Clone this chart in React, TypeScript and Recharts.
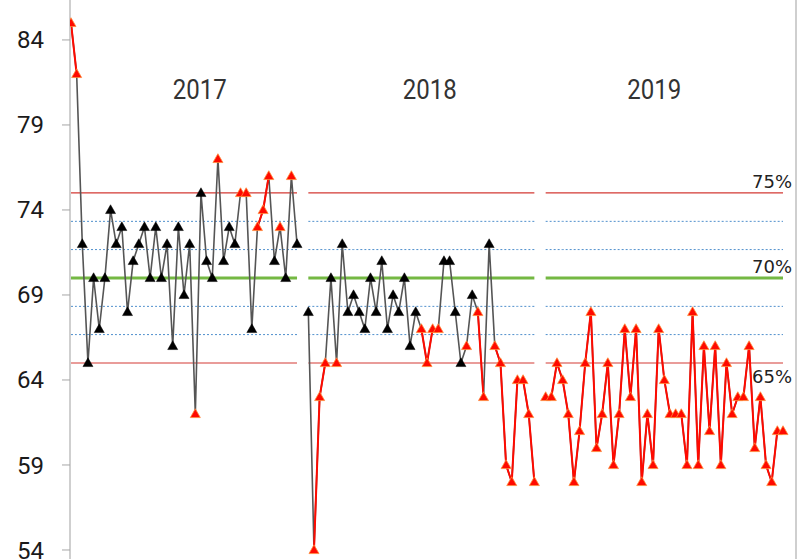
import { Line, LineChart, ReferenceDot, ReferenceLine, XAxis, YAxis } from "recharts";

// readings per year (one point per sample)
const values2017 = [
  85, 82, 72, 65, 70, 67, 70, 74, 72, 73, 68, 71, 72, 73, 70, 73, 70, 72, 66, 73, 69,
  72, 62, 75, 71, 70, 77, 71, 73, 72, 75, 75, 67, 73, 74, 76, 71, 73, 70, 76, 72
];
// 1 = flagged point (red marker)
const flags2017 = [
  1, 1, 0, 0, 0, 0, 0, 0, 0, 0, 0, 0, 0, 0, 0, 0, 0, 0, 0, 0, 0,
  0, 1, 0, 0, 0, 1, 0, 0, 0, 1, 1, 0, 1, 1, 1, 0, 1, 0, 1, 0
];

const values2018 = [
  68, 54, 63, 65, 70, 65, 72, 68, 69, 68, 67, 70, 68, 71, 67, 69, 68, 70, 66, 68, 67,
  65, 67, 67, 71, 71, 68, 65, 66, 69, 68, 63, 72, 66, 65, 59, 58, 64, 64, 62, 58
];
const flags2018 = [
  0, 1, 1, 1, 0, 1, 0, 0, 0, 0, 0, 0, 0, 0, 0, 0, 0, 0, 0, 0, 1,
  1, 1, 1, 0, 0, 0, 0, 1, 0, 1, 1, 0, 1, 1, 1, 1, 1, 1, 1, 1
];

const values2019 = [
  63, 63, 65, 64, 62, 58, 61, 65, 68, 60, 62, 65, 59, 62, 67, 63, 67, 58, 62, 59, 67, 64,
  62, 62, 62, 59, 68, 59, 66, 61, 66, 59, 65, 62, 63, 63, 66, 60, 63, 59, 58, 61, 61
];
const flags2019 = values2019.map(() => 1);

const years = ["2017", "2018", "2019"];
const yearLabelPos = [22.8, 63.5, 103.2];

const upperLimit = 75;
const centerLine = 70;
const lowerLimit = 65;
const bandLines = [73.33, 71.67, 68.33, 66.67];

const yTicks = [54, 59, 64, 69, 74, 79, 84];

const segments = [
  { values: values2017, flags: flags2017 },
  { values: values2018, flags: flags2018 },
  { values: values2019, flags: flags2019 }
];

type Row = {
  i: number;
  v: number | null;
  red: number | null;
  flag: number;
  ucl: number | null;
  cl: number | null;
  lcl: number | null;
  b0: number | null;
  b1: number | null;
  b2: number | null;
  b3: number | null;
};

// one row per sample, with an empty row between years so lines break
const rows: Row[] = [];
segments.forEach((seg, s) => {
  if (s > 0) {
    rows.push({
      i: rows.length, v: null, red: null, flag: 0,
      ucl: null, cl: null, lcl: null, b0: null, b1: null, b2: null, b3: null
    });
  }
  seg.values.forEach((v, k) => {
    const f = seg.flags[k];
    rows.push({
      i: rows.length,
      v,
      red: f ? v : null,
      flag: f,
      ucl: upperLimit,
      cl: centerLine,
      lcl: lowerLimit,
      b0: bandLines[0],
      b1: bandLines[1],
      b2: bandLines[2],
      b3: bandLines[3]
    });
  });
});

function Triangle(props: any) {
  const { cx, cy, payload, index } = props;
  if (cx == null || cy == null || payload?.v == null) return <g key={`t-${index}`} />;
  const red = payload.flag === 1;
  const d = `M${cx},${cy - 5.2} L${cx - 5},${cy + 3.6} L${cx + 5},${cy + 3.6} Z`;
  return (
    <path
      key={`t-${index}`}
      d={d}
      fill={red ? "#ff0a00" : "#000"}
      stroke={red ? "#ff8c3a" : "#000"}
      strokeWidth={red ? 0.8 : 0.5}
    />
  );
}

function yearLabel(text: string) {
  return (p: any) => {
    const vb = p.viewBox || {};
    const x = vb.x + (vb.width || 0) / 2;
    const y = vb.y + (vb.height || 0) / 2;
    return (
      <text
        x={x - 27}
        y={y + 10}
        textLength={54}
        lengthAdjust="spacingAndGlyphs"
        fontFamily="Roboto"
        fontSize={28}
        fill="#333"
      >
        {text}
      </text>
    );
  };
}

function pctLabel(text: string) {
  return (p: any) => {
    const vb = p.viewBox || {};
    const x = vb.x + (vb.width || 0) / 2;
    const y = vb.y + (vb.height || 0) / 2;
    return (
      <text x={x} y={y + 6.5} textAnchor="end" fontFamily="DejaVu Sans" fontSize={18} fill="#222">
        {text}
      </text>
    );
  };
}

export default function App() {
  return (
    <div style={{ position: "absolute", left: 0, top: 0, width: 802, height: 559, background: "#fff" }}>
      <LineChart width={802} height={559} data={rows} margin={{ top: 0, right: 6, bottom: 0, left: 0 }}>
        <XAxis dataKey="i" type="number" domain={[-0.177, 128.3]} hide allowDataOverflow />
        <YAxis
          domain={[53.47, 86.35]}
          ticks={yTicks}
          allowDataOverflow
          width={70}
          interval={0}
          axisLine={{ stroke: "#bfbfbf", strokeWidth: 1.5 }}
          tickLine={{ stroke: "#a6a6a6" }}
          tickSize={8}
          tickMargin={18}
          tick={{ fill: "#1a1a1a", fontSize: 24, fontFamily: "Roboto" }}
        />
        <ReferenceLine x={128.3} stroke="#bfbfbf" strokeWidth={1.5} ifOverflow="visible" />

        {(["b0", "b1", "b2", "b3"] as const).map((k) => (
          <Line
            key={k}
            dataKey={k}
            type="linear"
            stroke="#4f8fcc"
            strokeWidth={1}
            strokeDasharray="2 2"
            dot={false}
            activeDot={false}
            isAnimationActive={false}
          />
        ))}
        <Line dataKey="ucl" type="linear" stroke="#d43a34" strokeWidth={1.2} dot={false} activeDot={false} isAnimationActive={false} />
        <Line dataKey="lcl" type="linear" stroke="#d43a34" strokeWidth={1.2} dot={false} activeDot={false} isAnimationActive={false} />
        <Line dataKey="cl" type="linear" stroke="#74b843" strokeWidth={3} dot={false} activeDot={false} isAnimationActive={false} />

        <Line dataKey="v" type="linear" stroke="#555" strokeWidth={1.6} dot={false} activeDot={false} isAnimationActive={false} />
        <Line dataKey="red" type="linear" stroke="#ff0a00" strokeWidth={2} dot={false} activeDot={false} isAnimationActive={false} />
        <Line dataKey="v" type="linear" stroke="none" dot={Triangle} activeDot={false} isAnimationActive={false} />

        {years.map((y, k) => (
          <ReferenceDot
            key={y}
            x={yearLabelPos[k]}
            y={81.1}
            r={1}
            fill="none"
            stroke="none"
            ifOverflow="visible"
            label={yearLabel(y)}
          />
        ))}
        <ReferenceDot x={127.6} y={75.7} r={1} fill="none" stroke="none" ifOverflow="visible" label={pctLabel("75%")} />
        <ReferenceDot x={127.6} y={70.65} r={1} fill="none" stroke="none" ifOverflow="visible" label={pctLabel("70%")} />
        <ReferenceDot x={127.6} y={64.18} r={1} fill="none" stroke="none" ifOverflow="visible" label={pctLabel("65%")} />
      </LineChart>
    </div>
  );
}
